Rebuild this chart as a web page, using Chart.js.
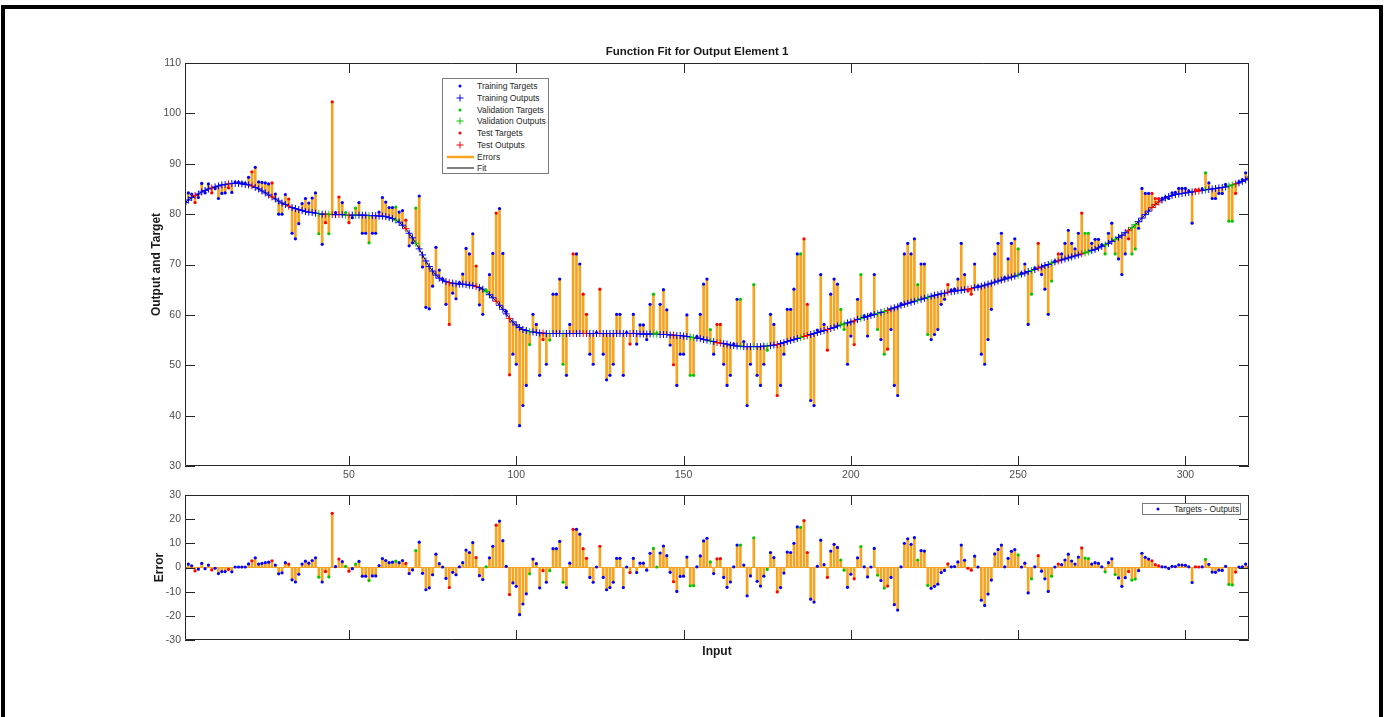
<!DOCTYPE html>
<html lang="en">
<head>
<meta charset="UTF-8">
<title>Function Fit for Output Element 1</title>
<script src="https://cdn.jsdelivr.net/npm/chart.js"></script>
<style>
    html, body {
        margin: 0;
        padding: 0;
        background: #fff;
    }
    body {
        width: 1386px;
        height: 717px;
        overflow: hidden;
        position: relative;
        font-family: "Liberation Sans", Arial, sans-serif;
    }
    .frame {
        position: absolute;
        left: 1px;
        top: 5px;
        width: 1374px;
        height: 780px;
        border: 4px solid #000;
    }
    canvas {
        position: absolute;
        left: 0;
    }
    #fitChart { top: 0; }
    #errChart { top: 480px; }
    .legend {
        position: absolute;
        box-sizing: border-box;
        background: #fff;
        border: 1px solid #7a7a7a;
        font-size: 8.5px;
        color: #262626;
    }
    .legend .row {
        position: absolute;
        left: 0;
        right: 0;
        height: 12px;
        line-height: 12px;
    }
    .legend svg {
        position: absolute;
        left: 0;
        top: 0;
    }
    .legend span {
        position: absolute;
        white-space: nowrap;
    }
</style>
</head>
<body>
<div class="frame"></div>
<canvas id="fitChart" width="1386" height="490"></canvas>
<canvas id="errChart" width="1386" height="237"></canvas>

<div class="legend" style="left:442px; top:78px; width:107px; height:96px;">
    <div class="row" style="top:1px"><svg width="40" height="12"><circle cx="17" cy="6" r="1.5" fill="#0000ff"/></svg><span style="left:34px">Training Targets</span></div>
    <div class="row" style="top:12.75px"><svg width="40" height="12"><path d="M13.5 6H20.5M17 2.5V9.5" stroke="#0000ff" stroke-width="1"/></svg><span style="left:34px">Training Outputs</span></div>
    <div class="row" style="top:24.5px"><svg width="40" height="12"><circle cx="17" cy="6" r="1.5" fill="#00c800"/></svg><span style="left:34px">Validation Targets</span></div>
    <div class="row" style="top:36.25px"><svg width="40" height="12"><path d="M13.5 6H20.5M17 2.5V9.5" stroke="#00c800" stroke-width="1"/></svg><span style="left:34px">Validation Outputs</span></div>
    <div class="row" style="top:48px"><svg width="40" height="12"><circle cx="17" cy="6" r="1.5" fill="#ff0000"/></svg><span style="left:34px">Test Targets</span></div>
    <div class="row" style="top:59.75px"><svg width="40" height="12"><path d="M13.5 6H20.5M17 2.5V9.5" stroke="#ff0000" stroke-width="1"/></svg><span style="left:34px">Test Outputs</span></div>
    <div class="row" style="top:71.5px"><svg width="40" height="12"><line x1="4" y1="6" x2="31" y2="6" stroke="#f7a320" stroke-width="2.5"/></svg><span style="left:34px">Errors</span></div>
    <div class="row" style="top:83.25px"><svg width="40" height="12"><line x1="4" y1="6" x2="31" y2="6" stroke="#000" stroke-width="1"/></svg><span style="left:34px">Fit</span></div>
</div>

<div class="legend" style="left:1142px; top:503px; width:99px; height:12px;">
    <div class="row" style="top:-1px"><svg width="30" height="12"><circle cx="15" cy="6" r="1.5" fill="#0000ff"/></svg><span style="left:31px">Targets - Outputs</span></div>
</div>

<script>
    // inputs run 1..319, one sample per input
    const firstInput = 1;
    const lastInput = 319;

    // network outputs (the fit curve)
    const outputs = [
        82.3, 82.8, 83.3, 83.7, 84.0, 84.4, 84.7, 85.0, 85.2, 85.4,
        85.6, 85.8, 85.9, 86.0, 86.1, 86.1, 86.1, 86.0, 85.9, 85.8,
        85.6, 85.3, 85.0, 84.6, 84.2, 83.8, 83.4, 83.0, 82.6, 82.2,
        81.9, 81.6, 81.3, 81.1, 80.9, 80.7, 80.5, 80.4, 80.3, 80.2,
        80.1, 80.0, 80.0, 80.0, 79.9, 79.9, 79.9, 79.9, 79.8, 79.8,
        79.8, 79.8, 79.8, 79.8, 79.8, 79.7, 79.7, 79.7, 79.6, 79.6,
        79.5, 79.3, 79.1, 78.8, 78.4, 77.8, 77.1, 76.2, 75.3, 74.2,
        73.1, 71.9, 70.7, 69.6, 68.7, 67.9, 67.3, 66.9, 66.6, 66.4,
        66.3, 66.2, 66.1, 66.1, 66.0, 65.9, 65.8, 65.6, 65.4, 65.1,
        64.6, 64.0, 63.4, 62.7, 61.9, 61.1, 60.2, 59.3, 58.6, 58.0,
        57.5, 57.1, 56.9, 56.7, 56.6, 56.5, 56.4, 56.4, 56.3, 56.3,
        56.3, 56.3, 56.3, 56.3, 56.3, 56.3, 56.3, 56.3, 56.3, 56.3,
        56.3, 56.3, 56.3, 56.3, 56.3, 56.3, 56.3, 56.3, 56.3, 56.3,
        56.3, 56.3, 56.3, 56.3, 56.3, 56.3, 56.2, 56.2, 56.2, 56.2,
        56.2, 56.2, 56.1, 56.1, 56.1, 56.0, 56.0, 55.9, 55.9, 55.8,
        55.7, 55.6, 55.5, 55.4, 55.3, 55.1, 55.0, 54.8, 54.7, 54.5,
        54.4, 54.3, 54.2, 54.0, 53.9, 53.8, 53.8, 53.7, 53.7, 53.7,
        53.7, 53.7, 53.7, 53.8, 53.8, 53.9, 54.0, 54.1, 54.3, 54.5,
        54.7, 54.9, 55.1, 55.3, 55.5, 55.7, 55.9, 56.1, 56.3, 56.5,
        56.7, 56.9, 57.1, 57.3, 57.5, 57.8, 58.0, 58.2, 58.4, 58.6,
        58.8, 59.1, 59.3, 59.5, 59.7, 59.9, 60.1, 60.3, 60.5, 60.7,
        60.9, 61.2, 61.4, 61.6, 61.9, 62.1, 62.3, 62.5, 62.7, 62.9,
        63.1, 63.3, 63.5, 63.7, 63.9, 64.0, 64.2, 64.3, 64.5, 64.6,
        64.7, 64.8, 64.9, 65.0, 65.1, 65.2, 65.4, 65.5, 65.7, 65.9,
        66.1, 66.3, 66.5, 66.7, 66.9, 67.1, 67.3, 67.5, 67.7, 67.9,
        68.1, 68.3, 68.6, 68.8, 69.0, 69.3, 69.5, 69.8, 70.0, 70.3,
        70.5, 70.7, 70.9, 71.1, 71.3, 71.5, 71.7, 71.9, 72.1, 72.3,
        72.5, 72.8, 73.0, 73.3, 73.6, 73.9, 74.2, 74.6, 75.0, 75.4,
        75.8, 76.3, 76.8, 77.3, 77.9, 78.5, 79.2, 79.9, 80.6, 81.3,
        81.9, 82.4, 82.8, 83.2, 83.5, 83.7, 83.9, 84.0, 84.1, 84.2,
        84.3, 84.4, 84.5, 84.6, 84.7, 84.8, 84.9, 85.0, 85.1, 85.2,
        85.3, 85.4, 85.6, 85.8, 86.0, 86.2, 86.5, 86.8, 87.1
    ];

    // errors = targets - outputs
    const errors = [
        -0.3, 1.4, 0.7, -1.4, -0.7, 1.7, -0.5, 1.0, -1.0, -0.3,
        -2.5, -1.7, -1.7, -0.8, -1.8, 0.2, 0.2, 0.2, 0.2, 1.5,
        2.8, 4.0, 1.4, 1.7, 2.0, 2.2, 2.8, 1.0, -2.6, -2.2,
        2.0, 1.4, -5.1, -6.0, -2.8, 1.4, 2.6, 1.8, 2.9, 4.0,
        -4.0, -6.0, -1.7, -3.9, 22.4, 0.4, 3.5, 2.4, 0.5, -1.5,
        -0.5, 1.4, 2.5, -3.6, -3.6, -5.4, -3.5, -3.5, 0.8, 3.7,
        2.9, 2.0, 2.2, 2.6, 2.0, 2.9, 1.7, -2.5, -1.0, 7.0,
        10.5, -2.4, -9.2, -8.4, -3.0, 5.5, 1.6, 0.2, -4.5, -8.3,
        -2.0, -3.0, 0.3, 2.0, 7.2, 6.2, 10.3, 4.1, -3.4, -5.0,
        0.3, 4.0, 8.8, 17.5, 19.2, 11.1, 0.5, -11.2, -6.4, -7.8,
        -19.5, -15.1, -10.9, -2.6, 3.5, 1.6, -8.4, -1.3, -6.1, -1.3,
        7.8, 7.8, 10.8, -6.1, -8.3, 1.8, 15.8, 15.8, 13.8, 7.8,
        3.8, -4.1, -6.1, 0.2, 8.8, -4.1, -9.2, -8.3, -6.1, 3.8,
        3.8, -8.3, 0.2, -2.1, 3.8, -2.1, 1.8, 1.8, -1.1, 5.9,
        7.9, 0.2, 6.0, 8.9, 4.9, -2.0, -5.9, -9.9, -3.7, -3.6,
        4.3, -7.6, -7.5, 0.3, 4.8, 11.0, 12.1, 2.3, -2.5, 3.6,
        3.7, -4.1, -8.2, -6.0, 0.3, 9.3, 9.3, 1.0, -11.7, -3.5,
        12.3, -5.7, -7.7, -3.6, -0.8, 6.2, 4.1, -10.1, -8.3, -2.3,
        6.4, 6.2, 10.0, 16.8, 16.6, 19.4, 6.2, -13.1, -14.3, 0.5,
        11.3, 1.2, -4.1, 6.8, 9.6, 8.3, 3.1, -1.1, -8.2, -2.8,
        -4.7, 4.0, 8.7, 0.3, -3.9, 0.2, 7.9, -3.2, -5.4, -8.5,
        -7.7, -4.1, -15.4, -17.6, 0.3, 10.0, 11.9, 9.6, 12.4, 3.1,
        7.0, 6.8, -7.4, -8.6, -7.8, -6.9, -2.1, -1.2, 1.5, 0.3,
        0.4, 2.3, 9.3, 3.0, -0.3, -1.1, 4.7, 0.2, -13.5, -15.7,
        -11.0, -5.2, 5.6, 7.5, 9.3, 0.3, 3.8, 6.7, 7.4, 5.2,
        0.2, 1.8, -10.5, -4.7, 0.3, 4.9, -1.5, -4.7, -9.9, -3.6,
        0.2, 1.4, 1.2, 3.1, 5.5, 2.7, 1.4, 4.3, 8.1, 3.9,
        3.7, 1.4, 2.0, 1.7, 0.3, -1.8, 2.0, 3.6, -2.9, -4.3,
        -7.8, -4.2, -1.7, -5.2, -4.8, -1.3, 5.9, 4.2, 3.5, 2.8,
        1.2, 0.7, 0.3, 0.2, -0.4, 0.5, 0.4, 1.1, 1.0, 0.9,
        0.3, -6.2, 0.3, 0.2, 0.3, 3.4, 1.3, -1.9, -2.0, -1.1,
        -1.2, 0.5, -7.0, -7.2, -1.9, 0.2, 0.3, 1.4, 0.3
    ];

    // which inputs went to validation and test (everything else is training)
    const validationInputs = [41, 44, 49, 52, 56, 64, 70, 91, 104, 110, 114, 141, 142, 152, 153,
        158, 167, 171, 175, 185, 197, 198, 203, 208, 210, 220, 223, 250, 254, 260, 270, 271,
        276, 279, 284, 285, 306, 313, 314];
    const testInputs = [4, 9, 14, 21, 27, 32, 43, 45, 47, 50, 67, 80, 88, 94, 98, 108, 117, 120,
        121, 125, 134, 147, 160, 161, 178, 186, 187, 193, 201, 211, 229, 235, 236, 256, 262,
        269, 283, 290, 291, 292, 303, 304, 315];

    const xTicks = [50, 100, 150, 200, 250, 300];
    const fitYTicks = [30, 40, 50, 60, 70, 80, 90, 100, 110];
    const errYTicks = [-30, -20, -10, 0, 10, 20, 30];

    const ORANGE = '#f7a320';
    const COLORS = { train: '#0000ff', val: '#00c800', test: '#ff0000' };
    const FONT = '"Liberation Sans", Arial, sans-serif';

    Chart.defaults.font.family = FONT;

    function splitOf(input) {
        if (validationInputs.includes(input)) return 'val';
        if (testInputs.includes(input)) return 'test';
        return 'train';
    }

    const inputs = outputs.map((_, k) => k + firstInput);
    const targets = outputs.map((o, k) => Math.round((o + errors[k]) * 100) / 100);

    function pointsFor(split, values) {
        return inputs.filter(i => splitOf(i) === split)
            .map(i => ({ x: i, y: values[i - firstInput] }));
    }

    // box round the axes with inward ticks on all four sides, like MATLAB
    const matlabBox = {
        id: 'matlabBox',
        afterDraw(chart, args, opts) {
            const { ctx, chartArea: a } = chart;
            const xs = chart.scales.x, ys = chart.scales.y;
            ctx.save();
            ctx.strokeStyle = '#262626';
            ctx.lineWidth = 1;
            ctx.beginPath();
            ctx.rect(Math.round(a.left) + 0.5, Math.round(a.top) + 0.5,
                Math.round(a.width) - 1, Math.round(a.height) - 1);
            xs.ticks.forEach(t => {
                const px = Math.round(xs.getPixelForValue(t.value)) + 0.5;
                ctx.moveTo(px, a.bottom); ctx.lineTo(px, a.bottom - opts.len);
                ctx.moveTo(px, a.top); ctx.lineTo(px, a.top + opts.len);
            });
            ys.ticks.forEach(t => {
                const py = Math.round(ys.getPixelForValue(t.value)) + 0.5;
                ctx.moveTo(a.left, py); ctx.lineTo(a.left + opts.len, py);
                ctx.moveTo(a.right, py); ctx.lineTo(a.right - opts.len, py);
            });
            ctx.stroke();
            ctx.restore();
        }
    };

    function xAxis(height, showLabels, title) {
        return {
            type: 'linear',
            min: firstInput,
            max: lastInput,
            offset: false,
            afterBuildTicks: s => { s.ticks = xTicks.map(v => ({ value: v })); },
            afterFit: s => { s.height = height; },
            grid: { display: false, drawTicks: false },
            border: { display: false },
            ticks: { display: showLabels, padding: 3, color: '#4d4d4d', font: { size: 10.5 } },
            title: title
                ? { display: true, text: title, color: '#1a1a1a', font: { size: 12, weight: 'bold' }, padding: { top: 0, bottom: 4 } }
                : { display: false }
        };
    }

    function yAxis(min, max, tickValues, width, title) {
        return {
            min: min,
            max: max,
            afterBuildTicks: s => { s.ticks = tickValues.map(v => ({ value: v })); },
            afterFit: s => { s.width = width; },
            grid: { display: false, drawTicks: false },
            border: { display: false },
            ticks: { padding: 4, color: '#4d4d4d', font: { size: 10.5 } },
            title: { display: true, text: title, color: '#1a1a1a', font: { size: 12, weight: 'bold' }, padding: { top: 4, bottom: 0 } }
        };
    }

    function crossSet(label, split) {
        return {
            type: 'scatter', label: label, data: pointsFor(split, outputs),
            pointStyle: 'cross', pointRadius: 3.5, borderColor: COLORS[split],
            borderWidth: 1, order: 3
        };
    }

    function dotSet(label, split, values) {
        return {
            type: 'scatter', label: label, data: pointsFor(split, values),
            pointStyle: 'circle', pointRadius: 1.6, backgroundColor: COLORS[split],
            borderWidth: 0, order: 1
        };
    }

    const common = {
        responsive: false,
        devicePixelRatio: 1,
        animation: false,
        events: [],
        plugins: {
            legend: { display: false },
            tooltip: { enabled: false },
            matlabBox: { len: 10 }
        }
    };

    // ---- top: function fit ----
    new Chart(document.getElementById('fitChart'), {
        type: 'scatter',
        data: {
            datasets: [
                {
                    type: 'bar', label: 'Errors',
                    data: inputs.map((i, k) => ({ x: i, y: [outputs[k], targets[k]] })),
                    backgroundColor: ORANGE, barThickness: 2, grouped: false, order: 10
                },
                {
                    type: 'line', label: 'Fit',
                    data: inputs.map((i, k) => ({ x: i, y: outputs[k] })),
                    borderColor: '#000', borderWidth: 1, pointRadius: 0, tension: 0, order: 9
                },
                crossSet('Training Outputs', 'train'),
                crossSet('Validation Outputs', 'val'),
                crossSet('Test Outputs', 'test'),
                dotSet('Training Targets', 'train', targets),
                dotSet('Validation Targets', 'val', targets),
                dotSet('Test Targets', 'test', targets)
            ]
        },
        options: {
            ...common,
            layout: { padding: { left: 145, top: 45.2, right: 137, bottom: 0 } },
            plugins: {
                ...common.plugins,
                title: {
                    display: true,
                    text: 'Function Fit for Output Element 1',
                    color: '#1a1a1a',
                    font: { size: 11.5, weight: 'bold' },
                    padding: { top: 0, bottom: 4 }
                }
            },
            scales: {
                x: xAxis(24, true, null),
                y: yAxis(30, 110, fitYTicks, 40, 'Output and Target')
            }
        },
        plugins: [matlabBox]
    });

    // ---- bottom: errors ----
    new Chart(document.getElementById('errChart'), {
        type: 'scatter',
        data: {
            datasets: [
                {
                    type: 'bar', label: 'Errors',
                    data: inputs.map((i, k) => ({ x: i, y: [0, errors[k]] })),
                    backgroundColor: ORANGE, barThickness: 2, grouped: false, order: 10
                },
                {
                    type: 'line', label: 'Zero',
                    data: [{ x: firstInput, y: 0 }, { x: lastInput, y: 0 }],
                    borderColor: ORANGE, borderWidth: 1, pointRadius: 0, order: 9
                },
                dotSet('Training', 'train', errors),
                dotSet('Validation', 'val', errors),
                dotSet('Test', 'test', errors)
            ]
        },
        options: {
            ...common,
            layout: { padding: { left: 148, top: 15, right: 137, bottom: 54 } },
            scales: {
                x: xAxis(23, false, 'Input'),
                y: yAxis(-30, 30, errYTicks, 37, 'Error')
            }
        },
        plugins: [matlabBox]
    });
</script>
</body>
</html>
